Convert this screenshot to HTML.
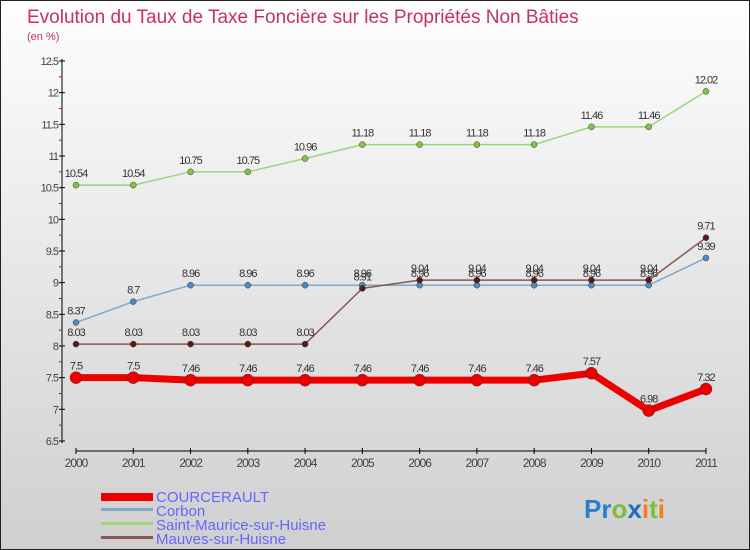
<!DOCTYPE html>
<html><head><meta charset="utf-8"><style>
body{margin:0}
#c{width:748px;height:548px;border:1px solid #222;background:linear-gradient(#fefefe,#cfcfcf);position:relative;overflow:hidden}
text{font-family:"Liberation Sans",sans-serif}
</style></head><body>
<div id="c">
<svg id="s" width="748" height="548" xmlns="http://www.w3.org/2000/svg">
<text x="26" y="22" font-size="19" fill="#c8305e">Evolution du Taux de Taxe Foncière sur les Propriétés Non Bâties</text>
<text x="26" y="39" font-size="11" fill="#c8305e">(en %)</text>
<g id="g"></g>
<g>
<rect x="100" y="492" width="52" height="8" fill="#e00"/>
<text x="155" y="501" font-size="15" fill="#6666ff">COURCERAULT</text>
<rect x="100" y="507" width="52" height="3" fill="#7fa8cc"/>
<text x="155" y="515" font-size="15" fill="#6666ff">Corbon</text>
<rect x="100" y="521" width="52" height="3" fill="#9ed47a"/>
<text x="155" y="529" font-size="15" fill="#6666ff">Saint-Maurice-sur-Huisne</text>
<rect x="100" y="535" width="52" height="3" fill="#8a5555"/>
<text x="155" y="543" font-size="15" fill="#6666ff">Mauves-sur-Huisne</text>
</g>
<g font-size="26" font-weight="bold">
<text x="583" y="517"><tspan fill="#2a7fc8">Pr</tspan><tspan fill="#7cbf3a">o</tspan><tspan fill="#1b6fc0">x</tspan><tspan fill="#f08020">i</tspan><tspan fill="#7cbf3a">t</tspan><tspan fill="#f08020">i</tspan></text>
</g>
</svg></div>
<script>
const years=[2000,2001,2002,2003,2004,2005,2006,2007,2008,2009,2010,2011];
const yTicks=[6.5,7,7.5,8,8.5,9,9.5,10,10.5,11,11.5,12,12.5];
const courcerault=[7.5,7.5,7.46,7.46,7.46,7.46,7.46,7.46,7.46,7.57,6.98,7.32];
const corbon=[8.37,8.7,8.96,8.96,8.96,8.96,8.96,8.96,8.96,8.96,8.96,9.39];
const saintMaurice=[10.54,10.54,10.75,10.75,10.96,11.18,11.18,11.18,11.18,11.46,11.46,12.02];
const mauves=[8.03,8.03,8.03,8.03,8.03,8.91,9.04,9.04,9.04,9.04,9.04,9.71];
const NS="http://www.w3.org/2000/svg";
const g=document.getElementById('g');
function X(i){return 75+i*57.27;}
function Y(v){return 60+(12.5-v)*63.33;}
function mk(t,a,p){const e=document.createElementNS(NS,t);for(const k in a)e.setAttribute(k,a[k]);(p||g).appendChild(e);return e;}
let ax=mk('line',{x1:61,y1:58,x2:61,y2:442,stroke:'#000'});


let bx=mk('line',{x1:75,y1:450,x2:705,y2:450,stroke:'#000'});


yTicks.forEach(v=>{
 mk('line',{x1:58,y1:Y(v),x2:64,y2:Y(v),stroke:'#000'});
 if(v<12.5)mk('line',{x1:58,y1:Y(v+0.25),x2:61,y2:Y(v+0.25),stroke:'#d00'});
 const t=mk('text',{x:57,y:Y(v)+4,'font-size':11,fill:'#444','text-anchor':'end','letter-spacing':'-1'});
 t.textContent=String(v);
 
 
});
years.forEach((yr,i)=>{
 mk('line',{x1:X(i),y1:447,x2:X(i),y2:453,stroke:'#000'});
 const t=mk('text',{x:X(i),y:466,'font-size':12,fill:'#444','text-anchor':'middle','letter-spacing':'-1'});
 t.textContent=yr;
 
 
});
function series(data,color,dot,w,r,name){
 const pl=mk('polyline',{points:data.map((v,i)=>X(i)+','+Y(v)).join(' '),fill:'none',stroke:color,'stroke-width':w,'stroke-linejoin':'round'});
 
 
 data.forEach((v,i)=>{
  const c=mk('circle',{cx:X(i),cy:Y(v),r:r,fill:dot,stroke:'#333','stroke-width':0.5});
  
  
  const t=mk('text',{x:X(i),y:Y(v)-8,'font-size':11,fill:'#333','text-anchor':'middle','letter-spacing':'-1'});
  t.textContent=String(v);
  
  
 });
}
series(saintMaurice,'#9ed47a','#7cc843',1.5,3,'saint-maurice');
series(corbon,'#7fa8cc','#4a8cc8',1.5,3,'corbon');
series(mauves,'#8a5555','#5a1a1a',1.5,3,'mauves');
series(courcerault,'#ee0000','#ee0000',7,6,'courcerault');
</script>
</body></html>
